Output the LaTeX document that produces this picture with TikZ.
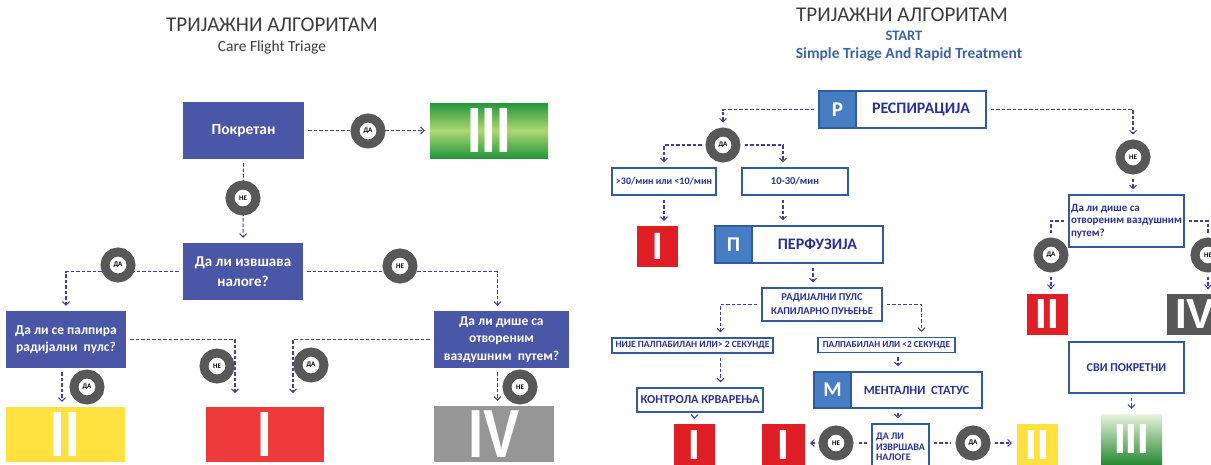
\documentclass[tikz,border=0pt]{standalone}
\usepackage{fontspec}
\setmainfont{Carlito}
\newfontfamily\numfont{Liberation Sans}
\usetikzlibrary{arrows.meta}
\definecolor{lboxc}{RGB}{74,87,167}
\definecolor{flowc}{RGB}{62,62,170}
\definecolor{ringc}{RGB}{88,88,88}
\definecolor{rlinec}{RGB}{50,90,160}
\definecolor{rtextc}{RGB}{40,50,150}
\definecolor{sqc}{RGB}{70,125,195}
\definecolor{redLc}{RGB}{238,58,59}
\definecolor{redRc}{RGB}{224,30,38}
\definecolor{yelc}{RGB}{255,226,64}
\definecolor{grayLc}{RGB}{150,150,150}
\definecolor{grayRc}{RGB}{88,88,88}
\definecolor{titlec}{RGB}{60,60,60}
\definecolor{startc}{RGB}{60,100,170}
\definecolor{gdarkc}{RGB}{35,150,60}
\definecolor{glightc}{RGB}{175,215,115}
\definecolor{gtopc}{RGB}{232,244,222}
\definecolor{gbotc}{RGB}{40,138,52}
\tikzset{
  flow/.style={draw=flowc, line width=1.1pt, dash pattern=on 3.5pt off 2pt, shorten <=4pt, shorten >=5pt, -{Straight Barb[length=3.5pt,width=7pt,line width=1pt]}},
  link/.style={flow, -},
  lbox/.style={rectangle, fill=lboxc, text=white, align=center, inner sep=0pt},
  rbox/.style={rectangle, draw=rlinec, line width=1.3pt, fill=white, text=rtextc, align=center, inner sep=0pt},
  sq/.style={rectangle, fill=sqc, draw=rlinec, line width=1.3pt, text=white, anchor=west, inner sep=0pt, font=\bfseries\fontsize{21}{21}\selectfont},
  ring/.style={circle, draw=ringc, line width=9pt, fill=white, minimum size=26pt, inner sep=0pt, font=\bfseries\fontsize{7}{7}\selectfont},
  gradeL/.style={rectangle, inner sep=0pt, text=white, font=\numfont\bfseries\fontsize{64}{64}\selectfont},
  gradeR/.style={rectangle, inner sep=0pt, text=white, font=\numfont\bfseries\fontsize{42}{42}\selectfont}
}
\newcommand{\narrow}[1]{\scalebox{0.82}[1]{#1}}
\begin{document}
\begin{tikzpicture}[x=1pt,y=1pt,yscale=-1,xscale=1]
\path[use as bounding box] (0,0) rectangle (1211,464);
\clip (0,0) rectangle (1211,464);

%%% Care Flight Triage
% Text Node
\node[text=titlec, font=\fontsize{21}{21}\selectfont] (titleL) at (272,24.5) {ТРИЈАЖНИ АЛГОРИТАМ};
\node[text=titlec, font=\fontsize{15.5}{15.5}\selectfont] (subL) at (272,47) {Care Flight Triage};
%Shape: Rectangle
\node[lbox, minimum width=121, minimum height=57, font=\bfseries\fontsize{15.5}{20}\selectfont] (pokr) at (243.5,130.5) {Покретан};
\node[gradeL, minimum width=118, minimum height=55, top color=gdarkc, bottom color=gdarkc, middle color=glightc] (gL) at (489,130.5) {\narrow{III}};
\node[lbox, minimum width=120, minimum height=57, font=\bfseries\fontsize{15}{20}\selectfont] (izv) at (243,271.5) {Да ли извшава\\налоге?};
\node[lbox, minimum width=120, minimum height=57, font=\bfseries\fontsize{13.5}{17}\selectfont] (palp) at (66,339.5) {Да ли се палпира\\радијални\ \ пулс?};
\node[lbox, minimum width=135, minimum height=57, font=\bfseries\fontsize{13.5}{17.5}\selectfont] (dise) at (501.5,339.5) {Да ли дише са\\отвореним\\ваздушним\ \ путем?};
\node[gradeL, minimum width=119, minimum height=55, fill=yelc] (yL) at (65.5,434.5) {\narrow{II}};
\node[gradeL, minimum width=118, minimum height=55, fill=redLc] (rL) at (265,434.5) {\narrow{I}};
\node[gradeL, minimum width=120, minimum height=56, fill=grayLc, font=\numfont\bfseries\fontsize{68}{68}\selectfont] (grL) at (494,434) {\scalebox{0.8}[1]{IV}};
\coordinate (c1) at (235,398);
\coordinate (c2) at (293,398);
%Lines
\draw[flow] (pokr) -- (gL);
\draw[flow] (pokr) -- (izv);
\draw[flow] (izv.west) -| (palp.north);
\draw[flow] (izv.east) -| ([xshift=-4pt]dise.north);
\draw[flow] (palp.east) -| (c1);
\draw[flow] (dise.west) -| (c2);
\draw[flow] ([xshift=-4pt]palp.south) -- ([xshift=-4pt]palp.south |- yL.north);
\draw[flow] ([xshift=-4pt]dise.south) -- ([xshift=-4pt]dise.south |- grL.north);
%Shape: Circle
\node[ring] (daA) at (368,131) {ДА};
\node[ring] (neA) at (243,198) {НЕ};
\node[ring] (daB) at (118,265) {ДА};
\node[ring] (neB) at (400,266) {НЕ};
\node[ring] (neC) at (217,366) {НЕ};
\node[ring] (daC) at (311,365) {ДА};
\node[ring] (daD) at (87,387) {ДА};
\node[ring] (neD) at (520,387) {НЕ};

%%% START
% Text Node
\node[text=titlec, font=\fontsize{21}{21}\selectfont] (titleR) at (902,15) {ТРИЈАЖНИ АЛГОРИТАМ};
\node[text=startc, font=\bfseries\fontsize{14.5}{14.5}\selectfont] (startR) at (904,36) {START};
\node[text=startc, font=\bfseries\fontsize{15.5}{15.5}\selectfont] (simpleR) at (909,54) {Simple Triage And Rapid Treatment};
%Shape: Rectangle
\node[rbox, minimum width=167, minimum height=37, font=\bfseries\fontsize{16}{16}\selectfont] (resp) at (902.5,109.5) {\hspace*{37pt}РЕСПИРАЦИЈА};
\node[sq, minimum width=37, minimum height=37] (respP) at (resp.west) {Р};
\node[rbox, minimum width=104, minimum height=27, font=\bfseries\fontsize{10}{10}\selectfont] (fast) at (664,181.5) {>30/мин или <10/мин};
\node[rbox, minimum width=106, minimum height=27, font=\bfseries\fontsize{10.5}{10.5}\selectfont] (norm) at (795,181.5) {10-30/мин};
\node[gradeR, minimum width=41, minimum height=41, fill=redRc, font=\numfont\bfseries\fontsize{38}{38}\selectfont] (redA) at (657.5,246.5) {I};
\node[rbox, minimum width=168, minimum height=37, font=\bfseries\fontsize{16}{16}\selectfont] (perf) at (799,244.5) {\hspace*{37pt}ПЕРФУЗИЈА};
\node[sq, minimum width=37, minimum height=37] (perfP) at (perf.west) {П};
\node[rbox, minimum width=120, minimum height=33, font=\bfseries\fontsize{10.5}{14}\selectfont] (rad) at (822,304.5) {РАДИЈАЛНИ ПУЛС\\КАПИЛАРНО ПУЊЕЊЕ};
\node[rbox, minimum width=161, minimum height=15, font=\bfseries\fontsize{9.6}{9.6}\selectfont] (nije) at (692.5,345.5) {НИЈЕ ПАЛПАБИЛАН ИЛИ> 2 СЕКУНДЕ};
\node[rbox, minimum width=137, minimum height=15, font=\bfseries\fontsize{9.3}{9.3}\selectfont] (palpR) at (886.5,345) {ПАЛПАБИЛАН ИЛИ <2 СЕКУНДЕ};
\node[rbox, minimum width=126, minimum height=24, font=\bfseries\fontsize{12.2}{12.2}\selectfont] (kontr) at (700,400) {КОНТРОЛА КРВАРЕЊА};
\node[rbox, minimum width=168, minimum height=36, font=\bfseries\fontsize{12.5}{12.5}\selectfont] (ment) at (898,390) {\hspace*{37pt}МЕНТАЛНИ\ \ СТАТУС};
\node[sq, minimum width=37, minimum height=36] (mentM) at (ment.west) {М};
\node[gradeR, minimum width=41, minimum height=42, fill=redRc] (redB) at (694.5,445) {I};
\node[rbox, minimum width=57, minimum height=46, align=left, font=\bfseries\fontsize{10}{10.5}\selectfont] (izvR) at (900.5,447) {ДА ЛИ\\ИЗВРШАВА\\НАЛОГЕ};
\node[gradeR, minimum width=43, minimum height=42, fill=redRc] (redC) at (783.5,445) {I};
\node[gradeR, minimum width=41, minimum height=42, fill=yelc] (yelR) at (1037.5,445) {II};
\node[rbox, minimum width=115, minimum height=52, align=left, font=\bfseries\fontsize{11}{12.5}\selectfont] (q2) at (1126.5,221) {Да ли дише са\\отвореним ваздушним\\путем?};
\node[gradeR, minimum width=41, minimum height=41, fill=redRc] (redD) at (1047.5,314.5) {II};
\node[gradeR, minimum width=56, minimum height=41, fill=grayRc] (grR) at (1195,314.5) {IV};
\node[rbox, minimum width=115, minimum height=51, font=\bfseries\fontsize{12}{12}\selectfont] (svi) at (1126.5,367.5) {СВИ ПОКРЕТНИ};
\node[gradeR, minimum width=61, minimum height=50, top color=gtopc, bottom color=gbotc] (grnR) at (1131.5,439) {III};
%Shape: Circle
\node[ring] (rdA) at (723,145) {ДА};
\node[ring] (rnA) at (1133,157) {НЕ};
\node[ring] (rdB) at (1051,255) {ДА};
\node[ring] (rnB) at (1208,255) {НЕ};
\node[ring] (rnC) at (836,443) {НЕ};
\node[ring] (rdC) at (973,443) {ДА};
%Lines
\draw[flow] (resp.west) -| (rdA.north);
\draw[flow] (rdA.west) -| (fast.north);
\draw[flow] (rdA.east) -| ([xshift=-12pt]norm.north);
\draw[flow] (fast.south) -- (fast.south |- redA.north);
\draw[flow] ([xshift=-12pt]norm.south) -- ([xshift=-12pt]norm.south |- perf.north);
\draw[flow] ([xshift=14pt]perf.south) -- ([xshift=14pt]perf.south |- rad.north);
\draw[flow] (rad.west) -| ([xshift=28pt]nije.north);
\draw[flow] (rad.east) -| ([xshift=35pt]palpR.north);
\draw[flow] ([xshift=28pt]nije.south) -- ([xshift=28pt]nije.south |- kontr.north);
\draw[flow] (ment.north |- palpR.south) -- (ment.north);
\draw[flow] (redB.north |- kontr.south) -- (redB.north);
\draw[flow] (ment.south) -- (ment.south |- izvR.north);
\draw[link] (izvR.west |- rnC) -- (rnC);
\draw[flow] (rnC) -- (rnC -| redC.east);
\draw[link] (izvR.east |- rdC) -- (rdC);
\draw[flow] (rdC) -- (rdC -| yelR.west);
\draw[flow] (resp.east) -| (rnA.north);
\draw[flow] (rnA) -- (rnA |- q2.north);
\draw[link] (q2.west) -| (rdB.north);
\draw[flow] (rdB) -- (rdB |- redD.north);
\draw[link] (q2.east) -| (rnB.north);
\draw[flow] (rnB) -- (rnB |- grR.north);
\draw[flow] (grnR.north |- svi.south) -- (grnR.north);
\end{tikzpicture}
\end{document}
